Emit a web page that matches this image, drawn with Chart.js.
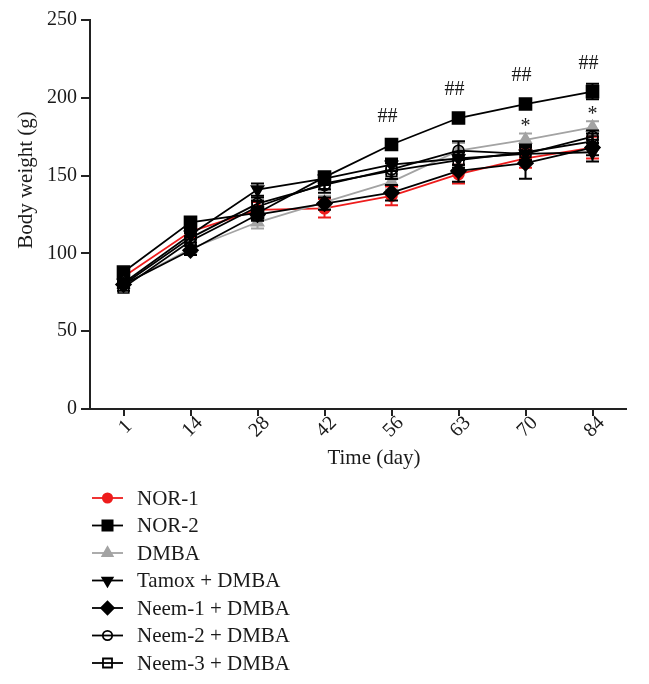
<!DOCTYPE html>
<html>
<head>
<meta charset="utf-8">
<script src="https://cdn.jsdelivr.net/npm/chart.js@4.4.1/dist/chart.umd.min.js"></script>
<style>
html, body { margin: 0; padding: 0; background: #fff; }
#bw { display: block; }
</style>
</head>
<body>
<canvas id="bw" width="649" height="684"></canvas>
<script>
// Body weight per group (g), mean and SEM
const days = ['1', '14', '28', '42', '56', '63', '70', '84'];

const nor1 = [85, 114, 128, 129, 137, 151, 161, 168];
const nor1Err = [2, 4, 5, 6, 6, 6, 6, 7];
const nor2 = [88, 120, 126, 149, 170, 187, 196, 204];
const nor2Err = [2, 3, 4, 3, 2, 2, 2, 5];
const dmba = [80, 103, 120, 133, 146, 166, 173, 181];
const dmbaErr = [2, 3, 4, 4, 5, 5, 4, 4];
const tamox = [81, 112, 141, 148, 157, 161, 164, 165];
const tamoxErr = [2, 3, 4, 4, 4, 4, 5, 6];
const neem1 = [80, 102, 125, 132, 139, 153, 158, 168];
const neem1Err = [2, 3, 4, 4, 5, 7, 10, 5];
const neem2 = [80, 110, 132, 144, 154, 166, 164, 175];
const neem2Err = [2, 3, 4, 5, 6, 6, 5, 4];
const neem3 = [78, 108, 130, 145, 153, 160, 165, 172];
const neem3Err = [2, 3, 4, 4, 5, 5, 5, 5];

// significance marks: ## over NOR-2, * over DMBA
const hashDays = ['56', '63', '70', '84'];
const starDays = ['70', '84'];

const yTicks = [0, 50, 100, 150, 200, 250];

const FONT = '"Liberation Serif", "DejaVu Serif", serif';
const INK = '#1a1a1a';

const groups = [
    { label: 'NOR-1', data: nor1, err: nor1Err, color: '#ee1c1c', style: 'circle', r: 5.5, hollow: false },
    { label: 'NOR-2', data: nor2, err: nor2Err, color: '#000000', style: 'rect', r: 8.5, hollow: false },
    { label: 'DMBA', data: dmba, err: dmbaErr, color: '#a3a3a3', style: 'triangle', r: 7, hollow: false },
    { label: 'Tamox + DMBA', data: tamox, err: tamoxErr, color: '#000000', style: 'triangle', r: 7, rot: 180, hollow: false },
    { label: 'Neem-1 + DMBA', data: neem1, err: neem1Err, color: '#000000', style: 'rectRot', r: 7.5, hollow: false },
    { label: 'Neem-2 + DMBA', data: neem2, err: neem2Err, color: '#000000', style: 'circle', r: 5.5, hollow: true },
    { label: 'Neem-3 + DMBA', data: neem3, err: neem3Err, color: '#000000', style: 'rect', r: 7.5, hollow: true }
];

const datasets = groups.map((g, i) => ({
    label: g.label,
    data: g.data,
    errors: g.err,
    borderColor: g.color,
    backgroundColor: g.color,
    borderWidth: 1.8,
    pointStyle: g.style,
    pointRadius: g.r,
    pointRotation: g.rot || 0,
    pointBorderWidth: 1.6,
    pointBorderColor: g.color,
    pointBackgroundColor: g.hollow ? 'rgba(255,255,255,0)' : g.color,
    tension: 0,
    order: groups.length - i  // first group drawn at the bottom
}));

// Error bars drawn just before each dataset's line
const errorBars = {
    id: 'errorBars',
    beforeDatasetDraw(chart, args) {
        const ds = chart.data.datasets[args.index];
        const y = chart.scales.y;
        const ctx = chart.ctx;
        ctx.save();
        ctx.strokeStyle = ds.borderColor;
        ctx.lineWidth = 2;
        args.meta.data.forEach((pt, i) => {
            const v = ds.data[i];
            const e = ds.errors[i];
            const top = y.getPixelForValue(v + e);
            const bot = y.getPixelForValue(v - e);
            ctx.beginPath();
            ctx.moveTo(pt.x, top); ctx.lineTo(pt.x, bot);
            ctx.moveTo(pt.x - 6.5, top); ctx.lineTo(pt.x + 6.5, top);
            ctx.moveTo(pt.x - 6.5, bot); ctx.lineTo(pt.x + 6.5, bot);
            ctx.stroke();
        });
        ctx.restore();
    }
};

// Rotated day labels, axis titles, significance marks and legend
const decorations = {
    id: 'decorations',
    afterDraw(chart) {
        const ctx = chart.ctx;
        const x = chart.scales.x;
        const area = chart.chartArea;
        ctx.save();
        ctx.fillStyle = INK;

        // x tick labels, rotated 45deg and centred under the tick
        ctx.font = '20px ' + FONT;
        ctx.textAlign = 'center';
        ctx.textBaseline = 'middle';
        days.forEach((d, i) => {
            ctx.save();
            ctx.translate(x.getPixelForTick(i) + 2, area.bottom + 18);
            ctx.rotate(-Math.PI / 4);
            ctx.fillText(d, 0, 0);
            ctx.restore();
        });

        // axis titles
        ctx.font = '21px ' + FONT;
        ctx.fillText('Time (day)', (area.left + area.right) / 2 + 16, area.bottom + 49);
        ctx.save();
        ctx.translate(26, 180);
        ctx.rotate(-Math.PI / 2);
        ctx.fillText('Body weight (g)', 0, 0);
        ctx.restore();

        // significance marks
        ctx.font = '20px ' + FONT;
        const nor2Meta = chart.getDatasetMeta(1);
        hashDays.forEach(d => {
            const pt = nor2Meta.data[days.indexOf(d)];
            ctx.fillText('##', pt.x - 4, pt.y - 28);
        });
        const dmbaMeta = chart.getDatasetMeta(2);
        starDays.forEach(d => {
            const pt = dmbaMeta.data[days.indexOf(d)];
            ctx.fillText('*', pt.x, pt.y - 13);
        });

        // legend
        ctx.textAlign = 'left';
        ctx.font = '21px ' + FONT;
        groups.forEach((g, i) => {
            const ly = 498 + i * 27.5;
            ctx.strokeStyle = g.color;
            ctx.lineWidth = 1.8;
            ctx.beginPath();
            ctx.moveTo(92, ly);
            ctx.lineTo(123, ly);
            ctx.stroke();
            ctx.fillStyle = g.hollow ? 'rgba(255,255,255,0)' : g.color;
            Chart.helpers.drawPoint(ctx, {
                pointStyle: g.style,
                radius: g.r * 0.85,
                rotation: g.rot || 0,
                borderWidth: 1.6
            }, 107.5, ly);
            ctx.fillStyle = INK;
            ctx.fillText(g.label, 137, ly + 1);
        });
        ctx.restore();
    }
};

const chart = new Chart(document.getElementById('bw'), {
    type: 'line',
    data: { labels: days, datasets: datasets },
    plugins: [errorBars, decorations],
    options: {
        responsive: false,
        animation: false,
        events: [],
        layout: { padding: { top: 20, right: 23, left: 0, bottom: 0 } },
        plugins: {
            legend: { display: false },
            tooltip: { enabled: false }
        },
        scales: {
            x: {
                type: 'category',
                offset: true,
                grid: { offset: false, drawOnChartArea: false, drawTicks: true, tickLength: 7, color: '#222', lineWidth: 2 },
                border: { display: true, color: '#222', width: 2 },
                ticks: { display: false },
                afterFit(s) { s.height = 684 - 409; s.paddingLeft = 0; s.paddingRight = 0; }
            },
            y: {
                min: 0,
                max: 250,
                afterBuildTicks(s) { s.ticks = yTicks.map(v => ({ value: v })); },
                grid: { drawOnChartArea: false, drawTicks: true, tickLength: 9, color: '#222', lineWidth: 2 },
                border: { display: true, color: '#222', width: 2 },
                ticks: { color: INK, padding: 4, font: { family: FONT, size: 20 } },
                afterFit(s) { s.width = 90; s.paddingTop = 0; s.paddingBottom = 0; }
            }
        }
    }
});
</script>
</body>
</html>
